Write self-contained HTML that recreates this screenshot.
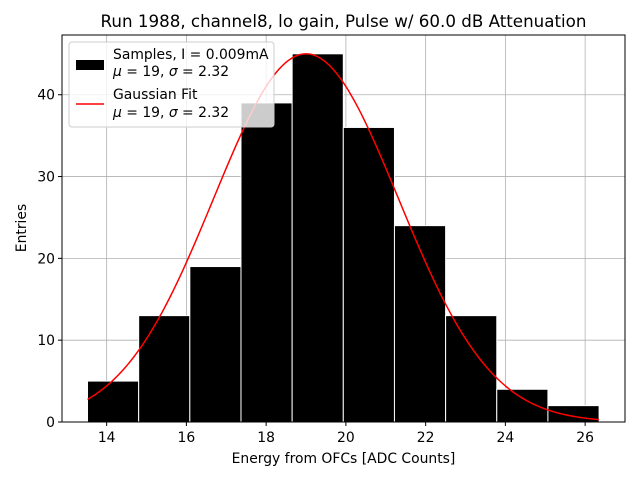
<!DOCTYPE html>
<html><head><meta charset="utf-8"><style>
body{margin:0;background:#fff;font-family:"Liberation Sans","DejaVu Sans",sans-serif}
svg text{font-family:"DejaVu Sans","Liberation Sans",sans-serif}
</style></head><body>
<svg id="c" width="640" height="480" xmlns="http://www.w3.org/2000/svg"></svg>
<script>
const binStart = 13.52;
const binWidth = 1.283;
const counts = [5, 13, 19, 39, 45, 36, 24, 13, 4, 2];
const xTicks = [14, 16, 18, 20, 22, 24, 26];
const yTicks = [0, 10, 20, 30, 40];
const fitMu = 19, fitSigma = 2.32, fitAmp = 45;

const L=62,R=625,T=35,B=422;
const xmin=12.88,xmax=27.0,ymin=0,ymax=47.3;
const sx=v=>L+(v-xmin)/(xmax-xmin)*(R-L);
const sy=v=>B-(v-ymin)/(ymax-ymin)*(B-T);
const svg=document.getElementById('c');
const NS='http://www.w3.org/2000/svg';
function mk(tag,attrs,parent){const e=document.createElementNS(NS,tag);for(const k in attrs)e.setAttribute(k,attrs[k]);(parent||svg).appendChild(e);return e;}

xTicks.forEach(t=>{const g=mk('line',{x1:sx(t),x2:sx(t),y1:T,y2:B,stroke:'#b0b0b0','stroke-width':0.8});

});
yTicks.forEach(t=>{const g=mk('line',{x1:L,x2:R,y1:sy(t),y2:sy(t),stroke:'#b0b0b0','stroke-width':0.8});

});

counts.forEach((c,i)=>{const x0=binStart+i*binWidth;
const b=mk('rect',{x:sx(x0),y:sy(c),width:sx(x0+binWidth)-sx(x0),height:sy(0)-sy(c),fill:'#000',stroke:'#fff','stroke-width':1});

});

let d='';const x1=binStart,x2=binStart+counts.length*binWidth;
for(let i=0;i<=200;i++){const x=x1+(x2-x1)*i/200;const y=fitAmp*Math.exp(-0.5*((x-fitMu)/fitSigma)**2);d+=(i?'L':'M')+sx(x).toFixed(2)+','+sy(y).toFixed(2);}
const fl=mk('path',{d:d,fill:'none',stroke:'#ff0000','stroke-width':1.5});



const fr=mk('rect',{x:L,y:T,width:R-L,height:B-T,fill:'none',stroke:'#000','stroke-width':1});



xTicks.forEach(t=>{mk('line',{x1:sx(t),x2:sx(t),y1:B,y2:B+4,stroke:'#000'});
const tx=mk('text',{x:sx(t),y:B+20,'text-anchor':'middle','font-size':13.9});tx.textContent=t;

});
yTicks.forEach(t=>{mk('line',{x1:L-4,x2:L,y1:sy(t),y2:sy(t),stroke:'#000'});
const tx=mk('text',{x:L-7,y:sy(t)+5,'text-anchor':'end','font-size':13.9});tx.textContent=t;

});
</script>
<svg width="640" height="480" style="position:absolute;left:0;top:0" xmlns="http://www.w3.org/2000/svg">
<text x="343.5" y="27" text-anchor="middle" font-size="16.7">Run 1988, channel8, lo gain, Pulse w/ 60.0 dB Attenuation</text>
<text x="343.5" y="463" text-anchor="middle" font-size="13.9">Energy from OFCs [ADC Counts]</text>
<text transform="translate(26,228) rotate(-90)" text-anchor="middle" font-size="13.9">Entries</text>
<g>
<rect x="69" y="42" width="205" height="85" rx="3" fill="#fff" fill-opacity="0.8" stroke="#ccc"/>
<rect x="76" y="60" width="28" height="10" fill="#000"/>
<text x="113" y="59" font-size="13.9">Samples, I = 0.009mA</text>
<text x="113" y="76" font-size="13.9"><tspan font-style="italic">μ</tspan> = 19, <tspan font-style="italic">σ</tspan> = 2.32</text>
<line x1="76" x2="104" y1="104" y2="104" stroke="#f00" stroke-width="1.5"/>
<text x="113" y="99" font-size="13.9">Gaussian Fit</text>
<text x="113" y="117" font-size="13.9"><tspan font-style="italic">μ</tspan> = 19, <tspan font-style="italic">σ</tspan> = 2.32</text>
</g>
</svg>
</body></html>
